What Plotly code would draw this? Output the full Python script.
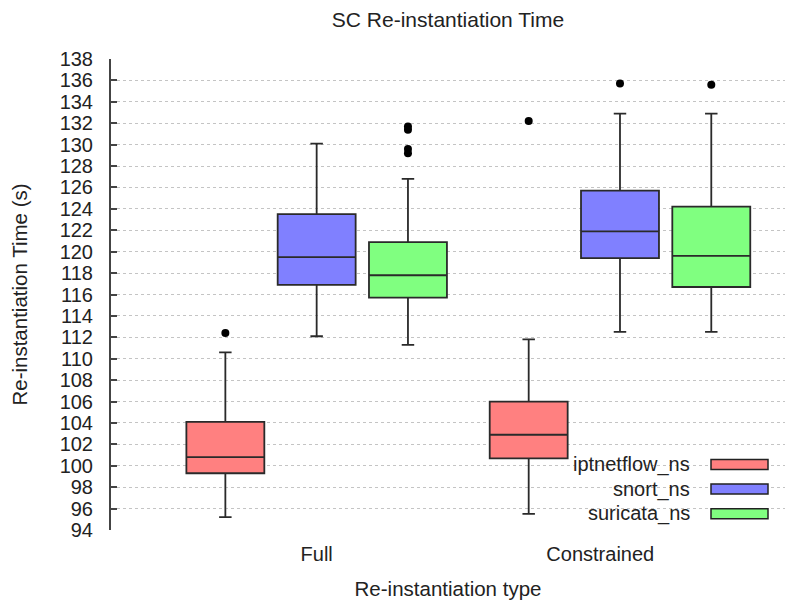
import plotly.graph_objects as go

types = ["Full", "Constrained"]
series = ["iptnetflow_ns", "snort_ns", "suricata_ns"]
colors = ["#ff8080", "#8080ff", "#80ff80"]

lower = {"iptnetflow_ns": [95.2, 95.5], "snort_ns": [112.1, 112.5], "suricata_ns": [111.3, 112.5]}
q1 = {"iptnetflow_ns": [99.3, 100.7], "snort_ns": [116.9, 119.4], "suricata_ns": [115.7, 116.7]}
median = {"iptnetflow_ns": [100.8, 102.9], "snort_ns": [119.5, 121.9], "suricata_ns": [117.8, 119.6]}
q3 = {"iptnetflow_ns": [104.1, 106.0], "snort_ns": [123.5, 125.7], "suricata_ns": [120.9, 124.2]}
upper = {"iptnetflow_ns": [110.6, 111.8], "snort_ns": [130.1, 132.9], "suricata_ns": [126.8, 132.9]}
outliers = {
    "iptnetflow_ns": [[112.4], [132.2]],
    "snort_ns": [[], [135.7]],
    "suricata_ns": [[129.2, 129.6, 131.4, 131.7], [135.6]],
}
yticks = list(range(94, 139, 2))

# layout constants (pixels)
W, H = 785, 600
L, R, T, B = 111, 785, 59, 530
pw, ph = R - L, B - T
group_step = 1.0
offset = 0.301
box_w = 0.257
xr = [-0.678, 1.544]

fig = go.Figure()
for si, s in enumerate(series):
    for gi, t in enumerate(types):
        xpos = gi * group_step + (si - 1) * offset
        fig.add_trace(go.Box(
            x=[xpos], q1=[q1[s][gi]], median=[median[s][gi]], q3=[q3[s][gi]],
            lowerfence=[lower[s][gi]], upperfence=[upper[s][gi]],
            width=box_w, whiskerwidth=0.16, fillcolor=colors[si],
            line=dict(color="#2a2a2a", width=1.8), boxpoints=False,
            showlegend=False, hoverinfo="skip"))
        if outliers[s][gi]:
            fig.add_trace(go.Scatter(
                x=[xpos] * len(outliers[s][gi]), y=outliers[s][gi], mode="markers",
                marker=dict(color="black", size=8), showlegend=False, hoverinfo="skip"))

# manual legend (text left of sample, like gnuplot)
def px2paper(x, y):
    return (x - L) / pw, (B - y) / ph

legend_y = [464.5, 489.0, 513.8]
for si, s in enumerate(series):
    x0, y0 = px2paper(711, legend_y[si] - 5)
    x1, y1 = px2paper(768, legend_y[si] + 5)
    fig.add_shape(type="rect", xref="paper", yref="paper", x0=x0, x1=x1, y0=y0, y1=y1,
                  fillcolor=colors[si], line=dict(color="#222222", width=1.5))
    tx, ty = px2paper(692, legend_y[si])
    fig.add_annotation(xref="paper", yref="paper", x=tx, y=ty, text=s, showarrow=False,
                       xanchor="right", yanchor="middle",
                       font=dict(family="Liberation Sans", size=20, color="#222222"))

fig.update_layout(
    width=W, height=H,
    margin=dict(l=L, r=W - R, t=T, b=H - B),
    paper_bgcolor="white", plot_bgcolor="white",
    font=dict(family="Liberation Sans", size=20, color="#222222"),
    title=dict(text="SC Re-instantiation Time", x=(L + R) / 2 / W, xanchor="center",
               y=1 - 20 / H, yanchor="middle", font=dict(size=21)),
    boxmode="overlay",
    showlegend=False,
)
fig.update_xaxes(range=xr, tickvals=[0, 0.935], ticktext=types, showgrid=False, zeroline=False,
                 showline=False, ticks="", ticklabelstandoff=10,
                 title=dict(text="Re-instantiation type", standoff=22, font=dict(size=20.5)))
fig.update_yaxes(range=[94, 138], tickvals=yticks, showgrid=True, gridcolor="#c4c4c4",
                 griddash="3px,3px", gridwidth=1, zeroline=False, showline=True,
                 linecolor="#444444", linewidth=2, ticks="inside", ticklen=6,
                 tickcolor="#444444", tickwidth=2, ticklabelstandoff=12,
                 title=dict(text="Re-instantiation Time (s)", standoff=26, font=dict(size=20.5)))

fig.write_html("out.html")
